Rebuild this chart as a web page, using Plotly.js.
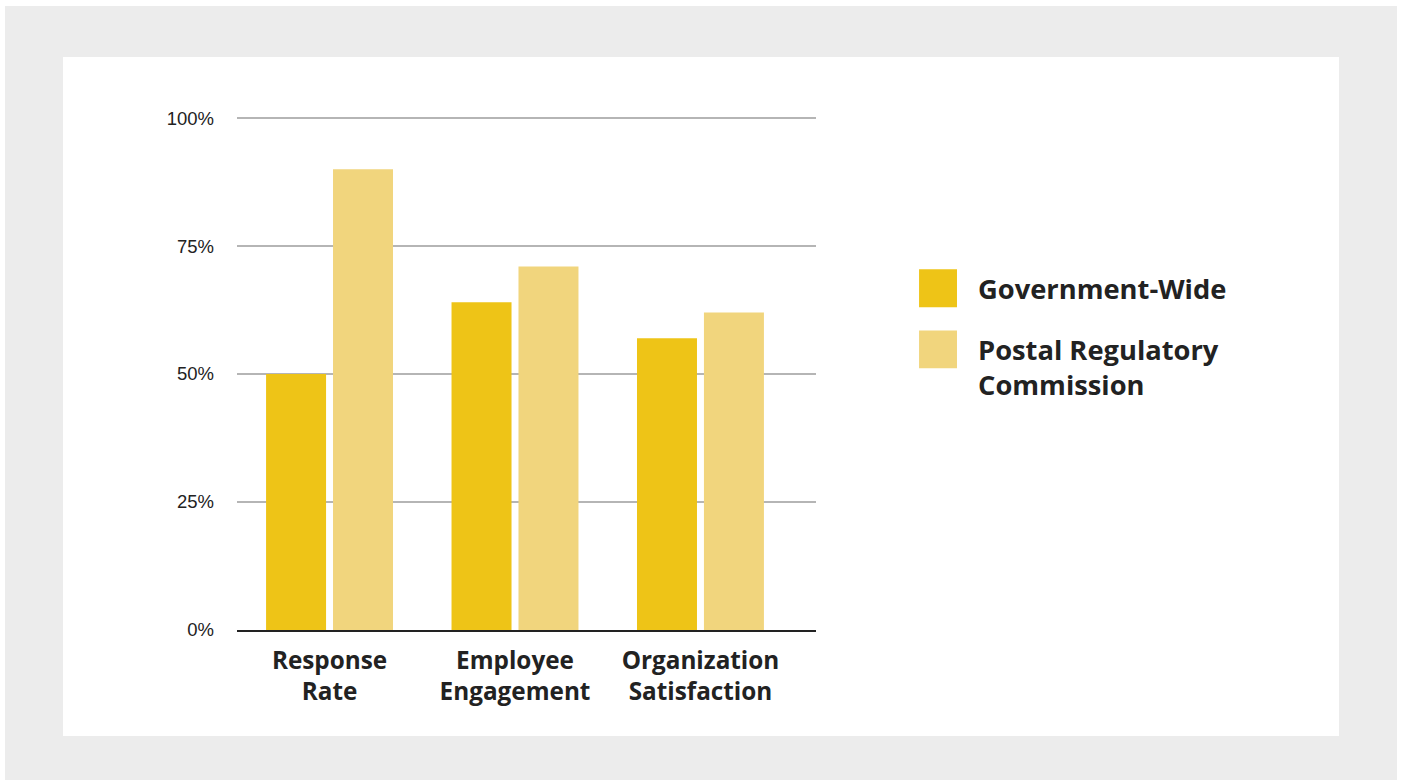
<!DOCTYPE html>
<html>
<head>
<meta charset="utf-8">
<script src="https://cdn.plot.ly/plotly-3.0.1.min.js"></script>
<style>
  html, body { margin: 0; padding: 0; background: #ffffff; width: 1403px; height: 780px; overflow: hidden; }
  #frame { position: absolute; left: 5px; top: 6px; width: 1392px; height: 774px; background: #ececec; }
  #panel { position: absolute; left: 63px; top: 57px; width: 1276px; height: 679px; background: #ffffff; }
  #chart { position: absolute; left: 0; top: 0; width: 1276px; height: 679px; }
</style>
</head>
<body>
<div id="frame"></div>
<div id="panel"><div id="chart"></div></div>
<script>
const categories = ["Response<br>Rate", "Employee<br>Engagement", "Organization<br>Satisfaction"];
const seriesNames = ["Government-Wide", "Postal Regulatory<br>Commission"];
const governmentWide = [50, 64, 57];
const postalRegulatory = [90, 71, 62];
const yTicks = [0, 25, 50, 75, 100];
const yTickLabels = ["0%", "25%", "50%", "75%", "100%"];
const colors = ["#EEC417", "#F1D57D"];

const traces = [
  { type: "bar", name: seriesNames[0], x: categories, y: governmentWide, marker: { color: colors[0] }, hoverinfo: "none" },
  { type: "bar", name: seriesNames[1], x: categories, y: postalRegulatory, marker: { color: colors[1] }, hoverinfo: "none" }
];

// legend drawn in paper coordinates (plot area: 579 x 512 px)
const legendRows = [
  { top: 0.703, bottom: 0.629 },
  { top: 0.584, bottom: 0.510 }
];
const legendShapes = legendRows.map((r, i) => ({
  type: "rect", xref: "paper", yref: "paper",
  x0: 1.178, x1: 1.2435, y0: r.bottom, y1: r.top,
  fillcolor: colors[i], line: { width: 0 }
}));
const legendLabels = legendRows.map((r, i) => ({
  xref: "paper", yref: "paper", x: 1.277, y: (r.top + r.bottom) / 2,
  xanchor: "left", yanchor: "top", yshift: 20, align: "left", showarrow: false,
  text: seriesNames[i],
  font: { family: "'Open Sans', sans-serif", size: 27.3, color: "#222222", weight: "bold" }
}));

const layout = {
  width: 1276, height: 679,
  margin: { l: 174, r: 523, t: 60, b: 106 },
  paper_bgcolor: "#ffffff", plot_bgcolor: "#ffffff",
  showlegend: false,
  barmode: "group", bargap: 0.278, bargroupgap: 0.104,
  xaxis: {
    type: "category", range: [-0.499, 2.623],
    showgrid: false, zeroline: false, showline: true, linecolor: "#222222", linewidth: 1.5,
    ticks: "", ticklabelstandoff: 8,
    tickfont: { family: "'Open Sans', sans-serif", size: 24.3, color: "#222222", weight: "bold" }
  },
  yaxis: {
    range: [0, 100.2], tickvals: yTicks, ticktext: yTickLabels,
    showgrid: true, gridcolor: "#b5b5b5", gridwidth: 1.5, zeroline: false, showline: false,
    ticks: "", ticklabelstandoff: 22,
    tickfont: { family: "'Liberation Sans', Arial, sans-serif", size: 18.5, color: "#222222" }
  },
  shapes: legendShapes,
  annotations: legendLabels
};

Plotly.newPlot("chart", traces, layout, { displayModeBar: false, staticPlot: true });
</script>
</body>
</html>
